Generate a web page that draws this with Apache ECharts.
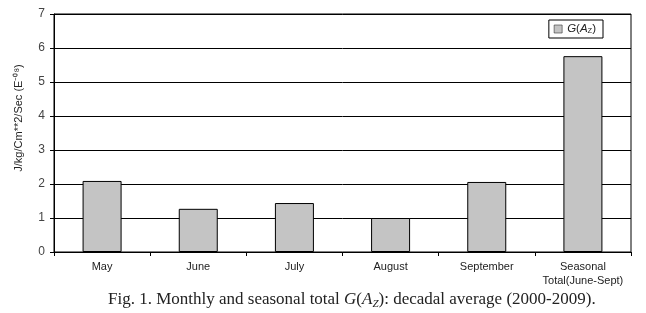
<!DOCTYPE html>
<html>
<head>
<meta charset="utf-8">
<script src="https://cdn.jsdelivr.net/npm/echarts@6/dist/echarts.min.js"></script>
<style>
  html, body { margin: 0; padding: 0; background: #fff; }
  #main { width: 646px; height: 313px; }
</style>
</head>
<body>
<div id="main"></div>
<script>
// categories and values
const categories = ['May', 'June', 'July', 'August', 'September', 'Seasonal\nTotal(June-Sept)'];
const gValues = [2.09, 1.27, 1.44, 1.0, 2.06, 5.76];
const yTicks = [0, 1, 2, 3, 4, 5, 6, 7];

const chart = echarts.init(document.getElementById('main'), null, { renderer: 'canvas' });

const serif = 'Liberation Serif, Times New Roman, serif';

chart.setOption({
  animation: false,
  backgroundColor: '#fff',
  textStyle: { fontFamily: 'Liberation Sans, Arial, sans-serif' },
  title: {
    left: 103,
    top: 283,
    text: '{n|Fig. 1. Monthly and seasonal total }{i|G}{n|(}{i|A}{s|Z}{n|): decadal average (2000-2009).}',
    textStyle: {
      fontWeight: 'normal',
      rich: {
        n: { fontFamily: serif, fontSize: 17, fontWeight: 'normal', color: '#222', lineHeight: 20, verticalAlign: 'bottom' },
        i: { fontFamily: serif, fontSize: 17, fontWeight: 'normal', fontStyle: 'italic', color: '#222', lineHeight: 20, verticalAlign: 'bottom' },
        s: { fontFamily: serif, fontSize: 11, fontWeight: 'normal', fontStyle: 'italic', color: '#222', lineHeight: 20, verticalAlign: 'bottom', padding: [0, 0, -2, 0] }
      }
    }
  },
  legend: {
    right: 43,
    top: 20,
    orient: 'vertical',
    borderColor: '#000',
    borderWidth: 1,
    borderRadius: 0,
    padding: [3, 7, 3, 5],
    itemWidth: 8,
    itemHeight: 8,
    itemGap: 0,
    data: [{ name: 'G(A_Z)', icon: 'rect', itemStyle: { borderWidth: 0.6, borderColor: '#333' } }],
    formatter: function () { return '{i|G}{n|(}{i|A}{s|Z}{n|)}'; },
    textStyle: {
      rich: {
        n: { fontSize: 11.5, color: '#222', fontFamily: 'Liberation Sans, Arial, sans-serif' },
        i: { fontSize: 11.5, fontStyle: 'italic', color: '#222', fontFamily: 'Liberation Sans, Arial, sans-serif' },
        s: { fontSize: 7.5, color: '#222', fontFamily: 'Liberation Sans, Arial, sans-serif', padding: [4, 0, 0, 0] }
      }
    }
  },
  grid: {
    left: 54,
    right: 15,
    top: 14,
    bottom: 61,
    show: true,
    borderColor: '#000',
    borderWidth: 1
  },
  xAxis: {
    type: 'category',
    data: categories,
    axisLine: { lineStyle: { color: '#000', width: 1 } },
    axisTick: { show: true, interval: 0, length: 4, lineStyle: { color: '#000' } },
    axisLabel: { interval: 0, color: '#222', fontSize: 11, margin: 8, lineHeight: 14 }
  },
  yAxis: {
    type: 'value',
    min: yTicks[0],
    max: yTicks[yTicks.length - 1],
    interval: 1,
    name: 'J/kg/Cm**2/Sec (E\u207B\u2070\u2078)',
    nameLocation: 'middle',
    nameGap: 30,
    nameTextStyle: { color: '#222', fontSize: 11, padding: [0, 0, 0, 30] },
    axisLine: { show: true, lineStyle: { color: '#000', width: 1 } },
    axisTick: { show: true, length: 4, lineStyle: { color: '#000' } },
    axisLabel: { color: '#444', fontSize: 12, margin: 9 },
    splitLine: { show: true, lineStyle: { color: '#000', width: 1 } }
  },
  series: [{
    name: 'G(A_Z)',
    type: 'bar',
    data: gValues,
    barWidth: 39,
    itemStyle: { color: '#c4c4c4', borderColor: '#000', borderWidth: 1 }
  }]
});
</script>
</body>
</html>
